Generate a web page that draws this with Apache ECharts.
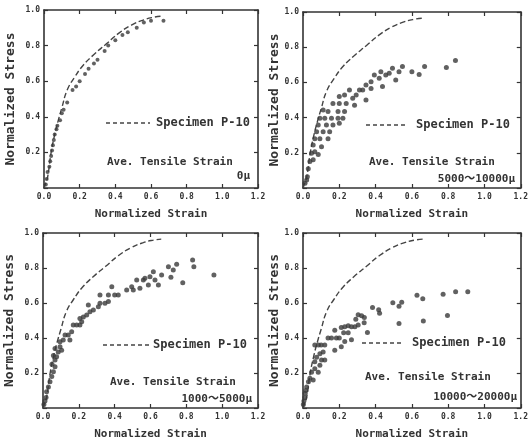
<!DOCTYPE html>
<html>
<head>
<meta charset="utf-8">
<script src="https://cdn.jsdelivr.net/npm/echarts@6/dist/echarts.min.js"></script>
<style>
  html, body { margin: 0; padding: 0; background: #fff; }
  #chart { width: 531px; height: 441px; }
</style>
</head>
<body>
<div id="chart"></div>
<script>
// reference curve of specimen P-10 (dashed line, same in every panel)
const specStrain = [0, 0.01, 0.02, 0.04, 0.06, 0.08, 0.1, 0.13, 0.17, 0.22, 0.28, 0.35, 0.42, 0.49, 0.56, 0.62, 0.66];
const specStress = [0, 0.03, 0.06, 0.2, 0.3, 0.38, 0.45, 0.55, 0.62, 0.69, 0.75, 0.81, 0.87, 0.915, 0.945, 0.96, 0.965];

// measured points [normalized strain, normalized stress]
const pts0 = [[0.01,0.02],[0.015,0.05],[0.02,0.09],[0.03,0.12],[0.035,0.15],[0.04,0.18],[0.045,0.21],[0.05,0.24],
  [0.055,0.27],[0.06,0.3],[0.07,0.33],[0.075,0.35],[0.09,0.38],[0.1,0.42],[0.11,0.44],[0.13,0.48],[0.16,0.55],
  [0.18,0.57],[0.2,0.6],[0.23,0.64],[0.25,0.67],[0.28,0.7],[0.3,0.72],[0.34,0.77],[0.36,0.8],[0.4,0.83],
  [0.44,0.86],[0.47,0.875],[0.52,0.9],[0.56,0.93],[0.6,0.94],[0.67,0.94]];

const pts5000 = [[0.011,0.027],[0.02,0.045],[0.024,0.064],[0.029,0.11],[0.038,0.15],[0.056,0.16],[0.047,0.197],
  [0.065,0.206],[0.084,0.19],[0.056,0.244],[0.102,0.235],[0.065,0.28],[0.093,0.28],[0.138,0.28],[0.075,0.32],
  [0.111,0.32],[0.147,0.32],[0.084,0.358],[0.129,0.358],[0.165,0.358],[0.2,0.368],[0.093,0.396],[0.12,0.396],
  [0.157,0.396],[0.193,0.396],[0.22,0.396],[0.111,0.443],[0.138,0.434],[0.193,0.434],[0.229,0.434],[0.165,0.48],
  [0.2,0.48],[0.238,0.48],[0.284,0.47],[0.2,0.52],[0.229,0.528],[0.256,0.557],[0.274,0.51],[0.347,0.5],
  [0.293,0.528],[0.329,0.557],[0.311,0.557],[0.347,0.585],[0.375,0.566],[0.375,0.604],[0.393,0.642],[0.42,0.623],
  [0.438,0.576],[0.429,0.66],[0.456,0.642],[0.475,0.652],[0.493,0.68],[0.511,0.614],[0.529,0.66],[0.548,0.69],
  [0.6,0.66],[0.64,0.645],[0.67,0.69],[0.79,0.685],[0.84,0.725]];

const pts1000 = [[0.005,0.02],[0.011,0.04],[0.017,0.06],[0.02,0.093],[0.03,0.12],[0.039,0.15],[0.049,0.18],
  [0.058,0.207],[0.067,0.236],[0.05,0.25],[0.067,0.274],[0.076,0.293],[0.058,0.3],[0.085,0.32],[0.104,0.33],
  [0.095,0.35],[0.067,0.34],[0.095,0.379],[0.113,0.389],[0.123,0.417],[0.141,0.417],[0.15,0.389],[0.16,0.436],
  [0.169,0.474],[0.188,0.474],[0.206,0.474],[0.216,0.493],[0.206,0.512],[0.225,0.52],[0.244,0.531],[0.262,0.55],
  [0.253,0.589],[0.281,0.56],[0.309,0.579],[0.318,0.598],[0.318,0.646],[0.346,0.598],[0.365,0.608],[0.384,0.693],
  [0.365,0.646],[0.4,0.646],[0.42,0.646],[0.467,0.674],[0.495,0.693],[0.504,0.674],[0.523,0.731],[0.541,0.684],
  [0.56,0.731],[0.569,0.741],[0.588,0.703],[0.597,0.75],[0.616,0.779],[0.625,0.731],[0.644,0.703],[0.662,0.76],
  [0.7,0.807],[0.714,0.747],[0.727,0.789],[0.746,0.821],[0.78,0.716],[0.835,0.846],[0.842,0.807],[0.954,0.76]];

const pts10000 = [[0.002,0.02],[0.005,0.04],[0.01,0.06],[0.012,0.085],[0.015,0.1],[0.02,0.12],[0.03,0.15],
  [0.038,0.17],[0.056,0.16],[0.047,0.205],[0.065,0.225],[0.084,0.205],[0.065,0.265],[0.093,0.245],[0.102,0.275],
  [0.12,0.275],[0.075,0.29],[0.093,0.31],[0.111,0.32],[0.065,0.36],[0.085,0.36],[0.1,0.36],[0.12,0.36],
  [0.138,0.4],[0.157,0.4],[0.175,0.33],[0.184,0.4],[0.2,0.4],[0.175,0.445],[0.211,0.35],[0.23,0.38],[0.211,0.46],
  [0.23,0.465],[0.249,0.47],[0.267,0.465],[0.286,0.465],[0.224,0.43],[0.249,0.43],[0.267,0.39],[0.291,0.507],
  [0.304,0.533],[0.323,0.527],[0.304,0.474],[0.337,0.487],[0.338,0.517],[0.355,0.431],[0.383,0.575],[0.417,0.562],
  [0.422,0.542],[0.495,0.601],[0.529,0.582],[0.544,0.605],[0.529,0.483],[0.628,0.644],[0.66,0.624],[0.663,0.497],
  [0.772,0.65],[0.796,0.528],[0.841,0.664],[0.908,0.664]];

const xTicks = [0, 1.2, 0.2];   // min, max, step
const yTicks = [0, 1.0, 0.2];

const panelPoints = [pts0, pts5000, pts1000, pts10000];
const strainRanges = ['0\u03bc', '5000\u301c10000\u03bc', '1000\u301c5000\u03bc', '10000\u301c20000\u03bc'];

// layout of the four boxes (pixels)
const boxes = [
  {left: 44, top: 10, width: 214, height: 178},
  {left: 303, top: 12, width: 220, height: 176},
  {left: 43, top: 233, width: 215, height: 175},
  {left: 303, top: 233, width: 220, height: 175}
];
// legend / annotation anchors per panel
const notes = [
  {dash: [106, 150, 123], spec: 156, ave: [107, 162], rng: [250, 176]},
  {dash: [366, 408, 125], spec: 416, ave: [369, 162], rng: [515, 179]},
  {dash: [103, 150, 345], spec: 153, ave: [110, 382], rng: [252, 399]},
  {dash: [362, 404, 343], spec: 412, ave: [365, 377], rng: [517, 397]}
];

const ink = '#333';
const mono = '"DejaVu Sans Mono", "Noto Sans CJK JP", monospace';

let chart = echarts.init(document.getElementById('chart'));

let grid = [], xAxis = [], yAxis = [], series = [], graphic = [];

boxes.forEach(function (b, i) {
  grid.push(b);
  let line = {show: true, onZero: false, lineStyle: {color: ink, width: 1.6}};
  let tick = {show: true, inside: true, length: 4, lineStyle: {color: ink, width: 1.2}};
  xAxis.push({
    type: 'value', gridIndex: i, min: xTicks[0], max: xTicks[1], interval: xTicks[2],
    axisLine: line, axisTick: tick, splitLine: {show: false},
    axisLabel: {
      color: ink, fontFamily: mono, fontWeight: 'bold', fontSize: 8, margin: 5,
      formatter: function (v) { return v.toFixed(1); }
    },
    name: 'Normalized Strain', nameLocation: 'middle', nameGap: 21,
    nameTextStyle: {color: ink, fontFamily: mono, fontWeight: 'bold', fontSize: 11}
  });
  xAxis.push({
    type: 'value', gridIndex: i, position: 'top', min: xTicks[0], max: xTicks[1], interval: xTicks[2],
    axisLine: line, axisTick: tick, axisLabel: {show: false}, splitLine: {show: false}
  });
  yAxis.push({
    type: 'value', gridIndex: i, min: yTicks[0], max: yTicks[1], interval: yTicks[2],
    axisLine: line, axisTick: tick, splitLine: {show: false},
    axisLabel: {
      color: ink, fontFamily: mono, fontWeight: 'bold', fontSize: 8, margin: 4,
      formatter: function (v) { return v === 0 ? '' : v.toFixed(1); }
    },
    name: 'Normalized Stress', nameLocation: 'middle', nameGap: i % 2 ? 22 : 27,
    nameTextStyle: {color: ink, fontFamily: mono, fontWeight: 'bold', fontSize: 13}
  });
  yAxis.push({
    type: 'value', gridIndex: i, position: 'right', min: yTicks[0], max: yTicks[1], interval: yTicks[2],
    axisLine: line, axisTick: tick, axisLabel: {show: false}, splitLine: {show: false}
  });

  series.push({
    type: 'line', xAxisIndex: 2 * i, yAxisIndex: 2 * i, smooth: true, symbol: 'none',
    lineStyle: {color: '#444', width: 1.4, type: 'dashed', dashOffset: 0},
    data: specStrain.map(function (s, k) { return [s, specStress[k]]; }),
    silent: true, z: 2
  });
  series.push({
    type: 'scatter', xAxisIndex: 2 * i, yAxisIndex: 2 * i, symbolSize: i === 0 ? 4 : 5,
    itemStyle: {color: '#3a3a3a'}, data: panelPoints[i], z: 3
  });

  let n = notes[i];
  graphic.push({
    type: 'line', shape: {x1: n.dash[0], y1: n.dash[2], x2: n.dash[1], y2: n.dash[2]},
    style: {stroke: '#444', lineWidth: 1.5, lineDash: [4, 3]}
  });
  graphic.push({
    type: 'text', x: n.spec, y: n.dash[2],
    style: {text: 'Specimen P-10', fill: ink, font: 'bold 12px ' + mono, textVerticalAlign: 'middle'}
  });
  graphic.push({
    type: 'text', x: n.ave[0], y: n.ave[1],
    style: {text: 'Ave. Tensile Strain', fill: ink, font: 'bold 11px ' + mono, textVerticalAlign: 'middle'}
  });
  graphic.push({
    type: 'text', x: n.rng[0], y: n.rng[1],
    style: {text: strainRanges[i], fill: ink, font: 'bold 11px ' + mono, textAlign: 'right', textVerticalAlign: 'middle'}
  });
});

let option = {
  backgroundColor: '#fff',
  animation: false,
  grid: grid,
  xAxis: xAxis,
  yAxis: yAxis,
  series: series,
  graphic: graphic
};
chart.setOption(option);
</script>
</body>
</html>
